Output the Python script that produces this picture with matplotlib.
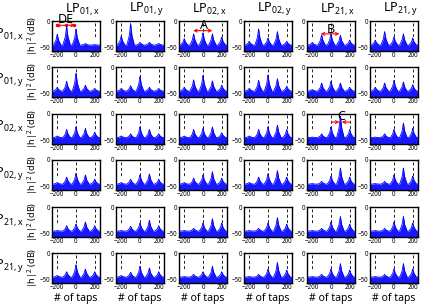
import numpy as np
import matplotlib
matplotlib.use("Agg")
import matplotlib.pyplot as plt

plt.rcParams['font.family'] = ['Noto Sans', 'DejaVu Sans']
plt.rcParams['mathtext.default'] = 'regular'

# mode names (rows = output, columns = input)
modes = ["LP$_{01,x}$", "LP$_{01,y}$", "LP$_{02,x}$", "LP$_{02,y}$", "LP$_{21,x}$", "LP$_{21,y}$"]

# tap positions of the impulse-response peaks and dashed marker lines
peak_taps = [-200, -100, 0, 100, 200]
mark_taps = [-200, 0, 200]
floor_db = -45

# peak heights in dB for each panel, one row of the figure per list
heights_r1 = [[-25, -10, -15, -42, -44], [-28, -5, -40, -40, -42], [-33, -24, -22, -24, -30],
              [-38, -15, -32, -20, -38], [-40, -26, -24, -27, -36], [-36, -20, -30, -24, -32]]
heights_r2 = [[-38, -27, -12, -34, -40], [-40, -35, -18, -38, -40], [-38, -24, -16, -26, -34],
              [-40, -25, -15, -22, -36], [-42, -30, -27, -30, -38], [-38, -30, -25, -28, -33]]
heights_r3 = [[-42, -30, -25, -28, -35], [-42, -38, -25, -30, -38], [-42, -30, -28, -25, -36],
              [-42, -30, -25, -22, -30], [-44, -38, -25, -5, -30], [-44, -38, -30, -18, -28]]
heights_r4 = [[-42, -32, -25, -28, -36], [-42, -36, -28, -26, -36], [-42, -34, -28, -22, -34],
              [-42, -32, -26, -20, -32], [-44, -40, -30, -15, -32], [-44, -40, -28, -15, -30]]
heights_r5 = [[-44, -35, -32, -28, -35], [-44, -36, -30, -25, -35], [-44, -40, -30, -22, -30],
              [-44, -40, -30, -20, -32], [-44, -40, -28, -18, -32], [-44, -40, -28, -18, -30]]
heights_r6 = [[-42, -35, -22, -30, -35], [-42, -36, -25, -28, -35], [-44, -40, -35, -25, -35],
              [-44, -40, -30, -18, -32], [-44, -40, -30, -20, -32], [-44, -40, -30, -20, -30]]
heights = [heights_r1, heights_r2, heights_r3, heights_r4, heights_r5, heights_r6]

W, H = 422, 306
fig = plt.figure(figsize=(W / 100, H / 100), dpi=100)

col_left = [52, 116, 179, 244, 307, 370]
row_top = [21, 67, 113.5, 160, 207, 253]
ax_w, ax_h = 48, 30


def trace(hs):
    xs, ys = [-256], [floor_db]
    for t, h in zip(peak_taps, hs):
        d = floor_db - h
        for off, frac in [(-40, 1.0), (-14, 0.55), (-4, 0.15), (0, 0.0), (4, 0.15), (14, 0.55), (40, 1.0)]:
            xs.append(t + off)
            ys.append(h + frac * d)
    xs.append(256)
    ys.append(floor_db)
    return np.array(xs), np.array(ys)


axes = {}
for r in range(6):
    for c in range(6):
        ax = fig.add_axes([col_left[c] / W, 1 - (row_top[r] + ax_h) / H, ax_w / W, ax_h / H])
        axes[r, c] = ax
        x, y = trace(heights[r][c])
        ax.fill_between(x, -60, y, color='#0000ff', lw=0, alpha=0.9, zorder=2)
        ax.plot(x, y, color='#0000ff', lw=0.6, zorder=3)
        for t in mark_taps:
            if r == 0 and c == 0 and t != 200:
                continue
            ax.plot([t, t], [-3, -32], color='#222222', lw=0.7, dashes=(3, 2.5), zorder=1)
        ax.set_xlim(-256, 256)
        ax.set_ylim(-56, 0)
        ax.set_xticks([-200, 0, 200])
        ax.set_yticks([-50, 0])
        ax.tick_params(labelsize=4.5, length=1.5, width=0.5, pad=1, direction='in')
        for s in ax.spines.values():
            s.set_linewidth(1.0)
        if r == 5:
            ax.set_xlabel("# of taps", fontsize=7.5, labelpad=1)
        if c == 0:
            ax.set_ylabel("|h|$^2$ (dB)", fontsize=6.5)
            ax.yaxis.set_label_coords(-0.25, 0.5)

for i, m in enumerate(modes):
    fig.text((col_left[i] + ax_w / 2 + 6) / W, 1 - 9 / H, m, fontsize=9, ha='center', va='center')
    fig.text(24 / W, 1 - (row_top[i] + ax_h / 2 - 2) / H, m, fontsize=9, ha='right', va='center')

# red arrows and labels
arr = dict(arrowstyle='<->', color='red', lw=0.8, mutation_scale=5, shrinkA=0, shrinkB=0)
one = dict(arrowstyle='->', color='red', lw=0.8, mutation_scale=5, shrinkA=0, shrinkB=0)
axes[0, 0].annotate('', xy=(-215, -8), xytext=(-10, -8), arrowprops=arr)
axes[0, 0].plot([-200, -110, -20], [-8, -8, -8], 'o', color='red', ms=1.5)
axes[0, 0].text(-110, -4.0, "DE", fontsize=9, ha='center', va='baseline', clip_on=False)
axes[0, 2].annotate('', xy=(-105, -18), xytext=(100, -18), arrowprops=arr)
axes[0, 2].text(10, -15, "A", fontsize=9, ha='center', va='baseline')
axes[0, 4].annotate('', xy=(-110, -24), xytext=(90, -24), arrowprops=arr)
axes[0, 4].text(-5, -21.5, "B", fontsize=9, ha='center', va='baseline')
axes[2, 4].annotate('', xy=(90, -16), xytext=(5, -16), arrowprops=one)
axes[2, 4].annotate('', xy=(115, -16), xytext=(200, -16), arrowprops=one)
axes[2, 4].text(105, -12.5, "C", fontsize=9, ha='center', va='baseline', clip_on=False)

fig.savefig("out.png", dpi=100)
